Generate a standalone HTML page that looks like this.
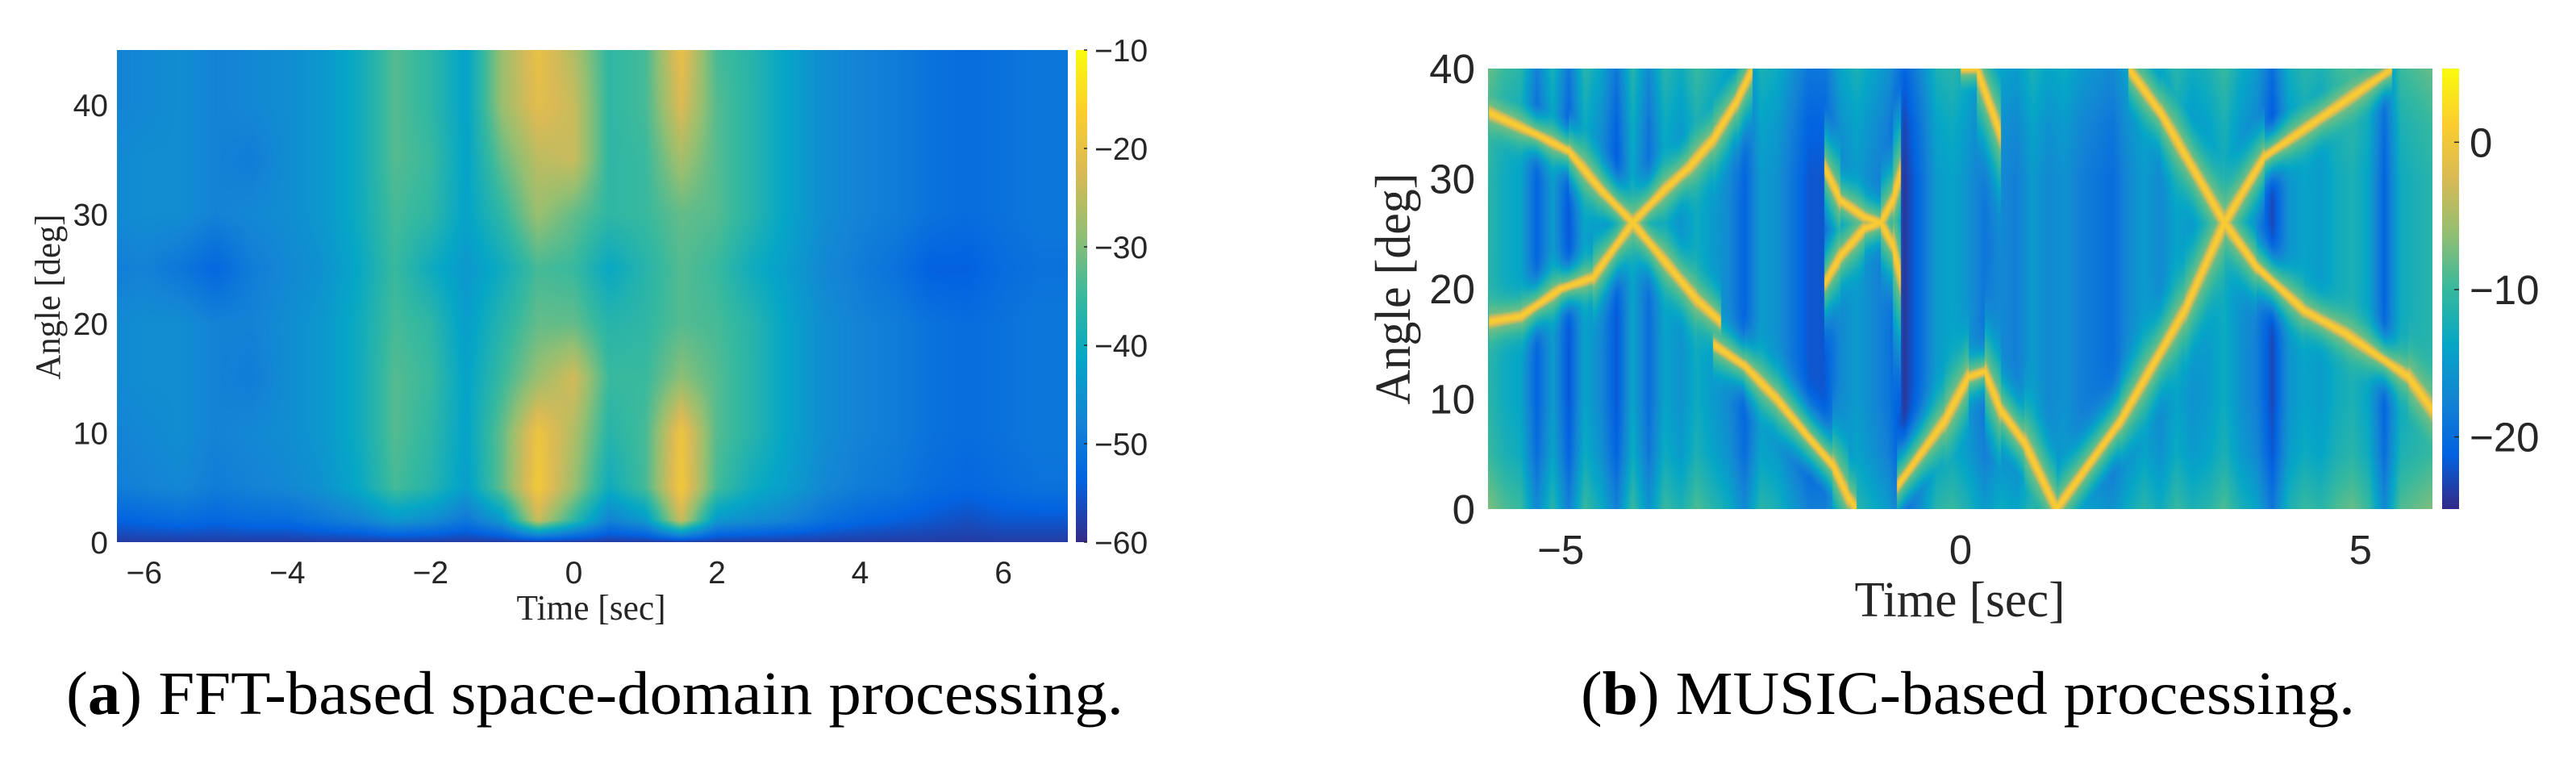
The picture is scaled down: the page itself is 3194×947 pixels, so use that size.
<!DOCTYPE html>
<html><head><meta charset="utf-8">
<style>
html,body{margin:0;padding:0;background:#fff;}
#root{position:relative;width:3194px;height:947px;overflow:hidden;background:#fff;}
canvas{position:absolute;display:block;}
svg{position:absolute;left:0;top:0;}
</style></head>
<body>
<div id="root">
<canvas id="hmA" style="left:145px;top:62px" width="1179" height="610"></canvas>
<canvas id="cbA" style="left:1334px;top:62px" width="14" height="610"></canvas>
<canvas id="hmB" style="left:1845px;top:85px" width="1171" height="546"></canvas>
<canvas id="cbB" style="left:3028px;top:85px" width="21" height="546"></canvas>
<svg id="ov" width="3194" height="947">
  <g font-family="Liberation Serif, serif" fill="#262626">
    <text x="733" y="768" font-size="44" text-anchor="middle" textLength="185" lengthAdjust="spacingAndGlyphs">Time [sec]</text>
    <text transform="translate(74,368) rotate(-90)" font-size="44" text-anchor="middle" textLength="205" lengthAdjust="spacingAndGlyphs">Angle [deg]</text>
    <text x="2430" y="764" font-size="62" text-anchor="middle" textLength="261" lengthAdjust="spacingAndGlyphs">Time [sec]</text>
    <text transform="translate(1748,358) rotate(-90)" font-size="62" text-anchor="middle" textLength="287" lengthAdjust="spacingAndGlyphs">Angle [deg]</text>
  </g>
  <g font-family="Liberation Serif, serif" fill="#000">
    <text x="82" y="885" font-size="76" textLength="1311" lengthAdjust="spacingAndGlyphs">(<tspan font-weight="bold">a</tspan>) FFT-based space-domain processing.</text>
    <text x="1960" y="885" font-size="76" textLength="960" lengthAdjust="spacingAndGlyphs">(<tspan font-weight="bold">b</tspan>) MUSIC-based processing.</text>
  </g>
  <g id="ticks" font-family="Liberation Sans, sans-serif" fill="#262626"></g>
</svg>
</div>
<script>
// ---------- Panel A data (FFT) ----------
const aTimes = [-6.5,-6,-5.5,-5,-4.5,-4,-3.5,-3,-2.5,-2,-1.5,-1,-0.5,0,0.5,1,1.5,2,2.5,3,3.5,4,4.5,5,5.5,6,6.5,7];
const aAngles = [0,2,5,10,15,20,25,30,35,40,45];
const aPower = [
 [-58,-58,-58,-58,-58,-58,-58,-58,-58,-58,-58,-58,-58,-58,-58,-58,-58,-58,-58,-58,-58,-58,-58,-58,-58,-58,-58,-58],
 [-54,-53,-52,-53,-52,-52,-50,-48,-44,-46,-50,-44,-24,-36,-48,-44,-24,-44,-46,-48,-51,-53,-54,-55,-56,-55,-55,-55],
 [-49,-48,-47,-49,-48,-47,-45,-41,-34,-37,-43,-32,-18,-28,-40,-34,-18,-34,-40,-43,-47,-49,-50,-52,-53,-52,-51,-51],
 [-48,-47,-46,-48,-47,-46,-44,-40,-33,-36,-42,-32,-19,-26,-37,-34,-19,-33,-37,-42,-46,-48,-49,-51,-52,-51,-50,-50],
 [-47,-46,-46,-48,-49,-46,-44,-40,-33,-35,-42,-35,-28,-23,-35,-35,-29,-33,-37,-42,-46,-48,-49,-51,-52,-51,-50,-50],
 [-47,-46,-46,-48,-48,-46,-44,-40,-34,-36,-43,-37,-32,-32,-37,-36,-33,-34,-37,-42,-46,-48,-49,-51,-52,-51,-50,-50],
 [-49,-48,-50,-53,-49,-47,-45,-41,-35,-40,-44,-40,-34,-35,-41,-37,-33,-35,-40,-43,-47,-49,-51,-54,-54,-52,-51,-51],
 [-47,-46,-46,-48,-47,-46,-44,-40,-34,-36,-42,-36,-28,-32,-36,-35,-32,-33,-37,-42,-46,-48,-49,-51,-52,-51,-50,-50],
 [-47,-46,-46,-48,-49,-46,-44,-40,-33,-35,-42,-32,-25,-24,-36,-35,-27,-33,-37,-42,-46,-48,-49,-51,-52,-51,-50,-50],
 [-48,-47,-46,-48,-47,-46,-44,-40,-33,-36,-42,-28,-21,-24,-36,-34,-22,-33,-37,-42,-46,-48,-49,-51,-52,-51,-50,-50],
 [-48,-47,-46,-48,-47,-46,-44,-40,-33,-36,-42,-28,-20,-26,-36,-34,-20,-34,-37,-42,-46,-48,-49,-51,-52,-51,-50,-50]
];
const aXTicks = [-6,-4,-2,0,2,4,6];
const aYTicks = [0,10,20,30,40];
const aCTicks = [-10,-20,-30,-40,-50,-60];

// ---------- Panel B data (MUSIC) ----------
const bBgTimes = [-5.9,-5.7,-5.5,-5.3,-5.1,-4.9,-4.7,-4.5,-4.3,-4.1,-3.9,-3.7,-3.5,-3.3,-3.1,-2.9,-2.7,-2.5,-2.3,-2.1,-1.9,-1.7,-1.5,-1.3,-1.1,-0.9,-0.7,-0.5,-0.3,-0.1,0.1,0.3,0.5,0.7,0.9,1.1,1.3,1.5,1.7,1.9,2.1,2.3,2.5,2.7,2.9,3.1,3.3,3.5,3.7,3.9,4.1,4.3,4.5,4.7,4.9,5.1,5.3,5.5,5.7,5.9];
const bBgLevel = [-11,-13,-14,-21,-15,-22,-14,-17,-22,-14,-20,-14,-16,-13,-15,-17,-21,-15,-16,-19,-22,-22,-17,-15,-17,-19,-24,-20,-15,-14,-16,-19,-17,-18,-15,-17,-16,-18,-19,-20,-17,-15,-17,-14,-16,-15,-13,-16,-18,-23,-16,-14,-15,-13,-12,-14,-21,-13,-12,-11];
const bRowAngles = [0,5,10,15,20,25,30,35,40];
const bRowOffset = [4,1,0,-1,-1,-1,0,1,3];
const trace1T = [-5.9,-5.3,-4.9,-4.5,-4.1,-3.7,-3.3,-3.0];
const trace1A = [36,34,32.5,29,26,22.5,19,17];
const trace2T = [-5.9,-5.5,-5.0,-4.6,-4.1,-3.7,-3.4,-3.1,-2.8,-2.6];
const trace2A = [17,17.5,20,21,26,29,31,33.5,37,40];
const trace3T = [-3.1,-2.7,-2.3,-1.9,-1.6,-1.4,-1.3];
const trace3A = [15,13,10,6.5,4,1,0];
const trace4T = [-1.7,-1.5,-1.2,-1.0,-0.85,-0.75];
const trace4A = [31,28,26.5,26,28,30.5];
const trace5T = [-1.7,-1.5,-1.2,-1.0,-0.85,-0.75];
const trace5A = [20.5,23,25.5,26,24,21];
const trace6T = [-0.8,-0.5,-0.2,0.1,0.3,0.5,0.8,1.0,1.2];
const trace6A = [2,5,8,12,12.5,9,6,3,0];
const trace7T = [0,0.2,0.35,0.5];
const trace7A = [40,40,37,34];
const trace8T = [1.2,1.6,2.0,2.4,2.8,3.3,3.8,4.2,4.6,5.0,5.4];
const trace8A = [0,4,8,13,18,26,32,34,36,38,40];
const trace9T = [2.1,2.5,2.9,3.3,3.7,4.0,4.3,4.8,5.2,5.6,5.9];
const trace9A = [40,36,31,26,22,20,18,16,14,12,9];
const bPeakLevel = 1;
const bXTicks = [-5,0,5];
const bYTicks = [0,10,20,30,40];
const bCTicks = [0,-10,-20];

// ---------- parula colormap ----------
const PAR = [[53,42,135],[3,99,225],[20,133,212],[6,167,198],[56,185,158],[146,191,115],[217,186,86],[252,206,46],[249,251,14]];
function parula(f){
  f = Math.max(0,Math.min(1,f));
  const p = f*(PAR.length-1), i = Math.min(PAR.length-2,Math.floor(p)), r = p-i;
  const a = PAR[i], b = PAR[i+1];
  return [a[0]+(b[0]-a[0])*r, a[1]+(b[1]-a[1])*r, a[2]+(b[2]-a[2])*r];
}
function lerpArr(xs, ys, x){
  if (x <= xs[0]) return ys[0];
  if (x >= xs[xs.length-1]) return ys[ys.length-1];
  for (let i=0;i<xs.length-1;i++){
    if (x>=xs[i] && x<=xs[i+1]){ const r=(x-xs[i])/(xs[i+1]-xs[i]); return ys[i]+(ys[i+1]-ys[i])*r; }
  }
  return ys[0];
}
function locate(xs, x){
  if (x <= xs[0]) return [0,0];
  if (x >= xs[xs.length-1]) return [xs.length-2,1];
  for (let i=0;i<xs.length-1;i++) if (x<=xs[i+1]) return [i,(x-xs[i])/(xs[i+1]-xs[i])];
  return [xs.length-2,1];
}

// ---------- Panel A axes ----------
const A = {x0:145, x1:1324, y0:62, y1:672, tMin:-6.38, tMax:6.9, aMin:0, aMax:45, cMin:-60, cMax:-10};
const axA = t => A.x0 + (t-A.tMin)/(A.tMax-A.tMin)*(A.x1-A.x0);
const ayA = a => A.y1 - (a-A.aMin)/(A.aMax-A.aMin)*(A.y1-A.y0);
const acA = v => A.y1 - (v-A.cMin)/(A.cMax-A.cMin)*(A.y1-A.y0);

(function(){
  const cv = document.getElementById('hmA'), ctx = cv.getContext('2d');
  const W = cv.width, H = cv.height, img = ctx.createImageData(W,H);
  for (let px=0; px<W; px++){
    const t = A.tMin + (px+0.5)/W*(A.tMax-A.tMin);
    const [ci, cr] = locate(aTimes, t);
    for (let py=0; py<H; py++){
      const ang = A.aMax - (py+0.5)/H*(A.aMax-A.aMin);
      const [ri, rr] = locate(aAngles, ang);
      const v00=aPower[ri][ci], v01=aPower[ri][ci+1], v10=aPower[ri+1][ci], v11=aPower[ri+1][ci+1];
      const v = (v00*(1-cr)+v01*cr)*(1-rr) + (v10*(1-cr)+v11*cr)*rr;
      const c = parula((v-A.cMin)/(A.cMax-A.cMin));
      const k = (py*W+px)*4;
      img.data[k]=c[0]; img.data[k+1]=c[1]; img.data[k+2]=c[2]; img.data[k+3]=255;
    }
  }
  ctx.putImageData(img,0,0);
  const cb = document.getElementById('cbA'), cc = cb.getContext('2d');
  for (let y=0;y<cb.height;y++){ const c=parula(1-y/cb.height); cc.fillStyle=`rgb(${c[0]|0},${c[1]|0},${c[2]|0})`; cc.fillRect(0,y,cb.width,1); }
})();

// ---------- Panel B axes ----------
const B = {x0:1845, x1:3016, y0:85, y1:631, tMin:-5.91, tMax:5.9, aMin:0, aMax:40, cMin:-24.9, cMax:5};
const axB = t => B.x0 + (t-B.tMin)/(B.tMax-B.tMin)*(B.x1-B.x0);
const ayB = a => B.y1 - (a-B.aMin)/(B.aMax-B.aMin)*(B.y1-B.y0);
const acB = v => B.y1 - (v-B.cMin)/(B.cMax-B.cMin)*(B.y1-B.y0);

(function(){
  const cv = document.getElementById('hmB'), ctx = cv.getContext('2d');
  const W = cv.width, H = cv.height, img = ctx.createImageData(W,H);
  const traces = [[trace1T,trace1A],[trace2T,trace2A],[trace3T,trace3A],[trace4T,trace4A],[trace5T,trace5A],[trace6T,trace6A],[trace7T,trace7A],[trace8T,trace8A],[trace9T,trace9A]];
  const pxPerT = W/(B.tMax-B.tMin), pxPerA = H/(B.aMax-B.aMin);
  for (let px=0; px<W; px++){
    const t = B.tMin + (px+0.5)/W*(B.tMax-B.tMin);
    const bg = lerpArr(bBgTimes, bBgLevel, t);
    const tr = [];
    for (const [T,Aa] of traces){
      if (t < T[0] || t > T[T.length-1]) continue;
      const [i,r] = locate(T,t);
      const a = Aa[i]+(Aa[i+1]-Aa[i])*r;
      const slope = ((Aa[i+1]-Aa[i])*pxPerA)/((T[i+1]-T[i])*pxPerT);
      tr.push([a, Math.sqrt(1+slope*slope)]);
    }
    for (let py=0; py<H; py++){
      const ang = B.aMax - (py+0.5)/H*(B.aMax-B.aMin);
      let v = bg + lerpArr(bRowAngles, bRowOffset, ang);
      for (const [a,s] of tr){
        const d = Math.abs(ang-a)*pxPerA/s;
        const core = bg + (bPeakLevel-bg)*Math.exp(-(d/9)*(d/9));
        const halo = bg + (-7-bg)*Math.exp(-(d/24)*(d/24));
        v = Math.max(v, core, halo);
      }
      const c = parula((v-B.cMin)/(B.cMax-B.cMin));
      const k = (py*W+px)*4;
      img.data[k]=c[0]; img.data[k+1]=c[1]; img.data[k+2]=c[2]; img.data[k+3]=255;
    }
  }
  ctx.putImageData(img,0,0);
  const cb = document.getElementById('cbB'), cc = cb.getContext('2d');
  for (let y=0;y<cb.height;y++){ const c=parula(1-y/cb.height); cc.fillStyle=`rgb(${c[0]|0},${c[1]|0},${c[2]|0})`; cc.fillRect(0,y,cb.width,1); }
})();

// ---------- tick labels ----------
const NS = 'http://www.w3.org/2000/svg';
const tg = document.getElementById('ticks');
function lbl(v){ return v<0 ? '\u2212'+Math.abs(v) : String(v); }
function addText(x,y,s,size,anchor,name){
  const el = document.createElementNS(NS,'text');
  el.setAttribute('x',x); el.setAttribute('y',y);
  el.setAttribute('font-size',size); el.setAttribute('text-anchor',anchor);
  el.textContent = s;
  
  
  tg.appendChild(el);
}
function addTick(x1,y1,x2,y2,name){
  const el = document.createElementNS(NS,'line');
  el.setAttribute('x1',x1); el.setAttribute('y1',y1); el.setAttribute('x2',x2); el.setAttribute('y2',y2);
  el.setAttribute('stroke','#262626'); el.setAttribute('stroke-width','1.5');
  
  
  tg.appendChild(el);
}
aXTicks.forEach(v => addText(axA(v), 723, lbl(v), 39, 'middle', 'fft-x-tick-label'));
aYTicks.forEach(v => addText(134, ayA(v)+14, lbl(v), 39, 'end', 'fft-y-tick-label'));
aCTicks.forEach(v => { addText(1357, acA(v)+14, lbl(v), 39, 'start', 'fft-colorbar-tick-label'); addTick(1344, acA(v), 1348, acA(v), 'fft-colorbar-tick'); });
bXTicks.forEach(v => addText(axB(v), 699, lbl(v), 51, 'middle', 'music-x-tick-label'));
bYTicks.forEach(v => addText(1829, ayB(v)+18, lbl(v), 51, 'end', 'music-y-tick-label'));
bCTicks.forEach(v => { addText(3062, acB(v)+18, lbl(v), 51, 'start', 'music-colorbar-tick-label'); addTick(3043, acB(v), 3049, acB(v), 'music-colorbar-tick'); });
</script>
</body></html>
